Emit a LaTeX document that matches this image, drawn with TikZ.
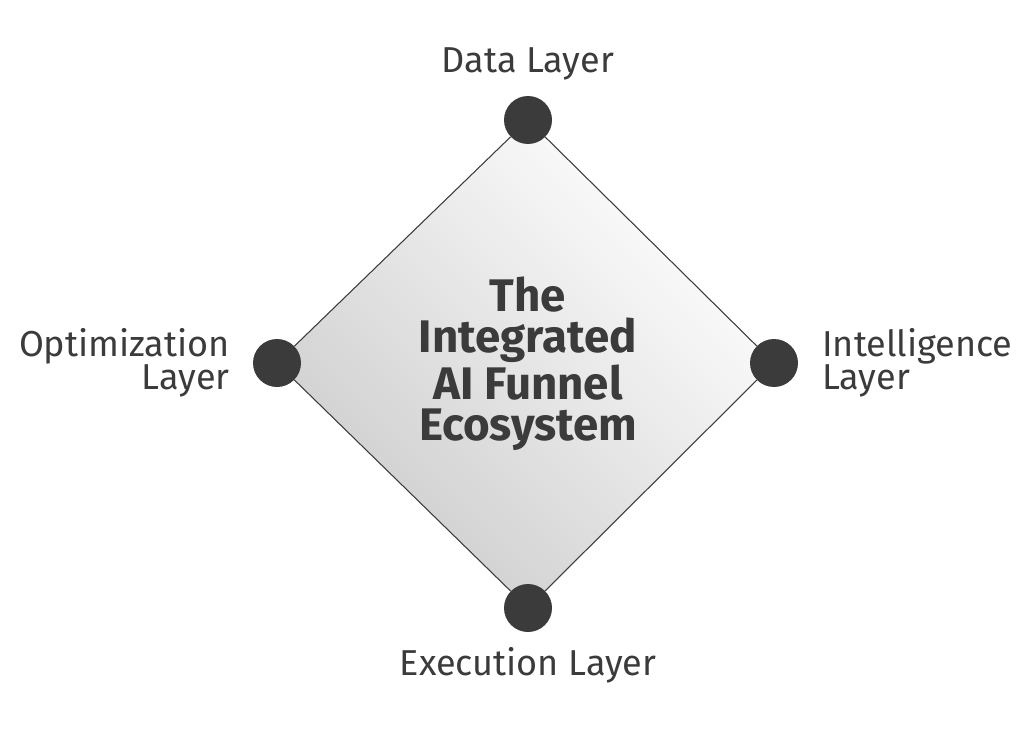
\documentclass[tikz,border=0pt]{standalone}
\usepackage{fontspec}
\setmainfont{Fira Sans}
\definecolor{ink}{HTML}{3B3B3B}
\begin{document}
\begin{tikzpicture}[x=0.02cm,y=-0.02cm]
\tikzstyle{dot}=[circle,fill=ink,inner sep=0pt,minimum size=0.96cm]
\tikzstyle{lbl}=[text=ink,font=\fontsize{20.5}{18.5}\selectfont,inner sep=0pt,align=center]
\useasboundingbox (0,0) rectangle (1024,734);
\fill[white] (0,0) rectangle (1024,734);
% shaded diamond, grey towards the lower left side
\shade[top color=white,middle color=white,bottom color=black!20,shading angle=-45]
  (528,120) -- (774,363) -- (528,608) -- (277,363) -- cycle;
\node[dot] (data) at (528,120) {};
\node[dot] (intel) at (774,363) {};
\node[dot] (exec) at (528,608) {};
\node[dot] (optim) at (277,363) {};
\draw[ink,line width=0.6pt] (data) -- (intel);
\draw[ink,line width=0.6pt] (intel) -- (exec);
\draw[ink,line width=0.6pt] (exec) -- (optim);
\draw[ink,line width=0.6pt] (optim) -- (data);
\node[text=ink,font=\bfseries\fontsize{26}{23.5}\selectfont,align=center] (title) at (528,364) {The\\Integrated\\AI Funnel\\Ecosystem};
\node[lbl] (ldata) at (528,64) {Data Layer};
\node[lbl] (lexec) at (528,665) {Execution Layer};
\node[lbl,align=right,anchor=east] (loptim) at (230,363) {Optimization\\Layer};
\node[lbl,align=left,anchor=west] (lintel) at (822,363) {Intelligence\\Layer};
\end{tikzpicture}
\end{document}
